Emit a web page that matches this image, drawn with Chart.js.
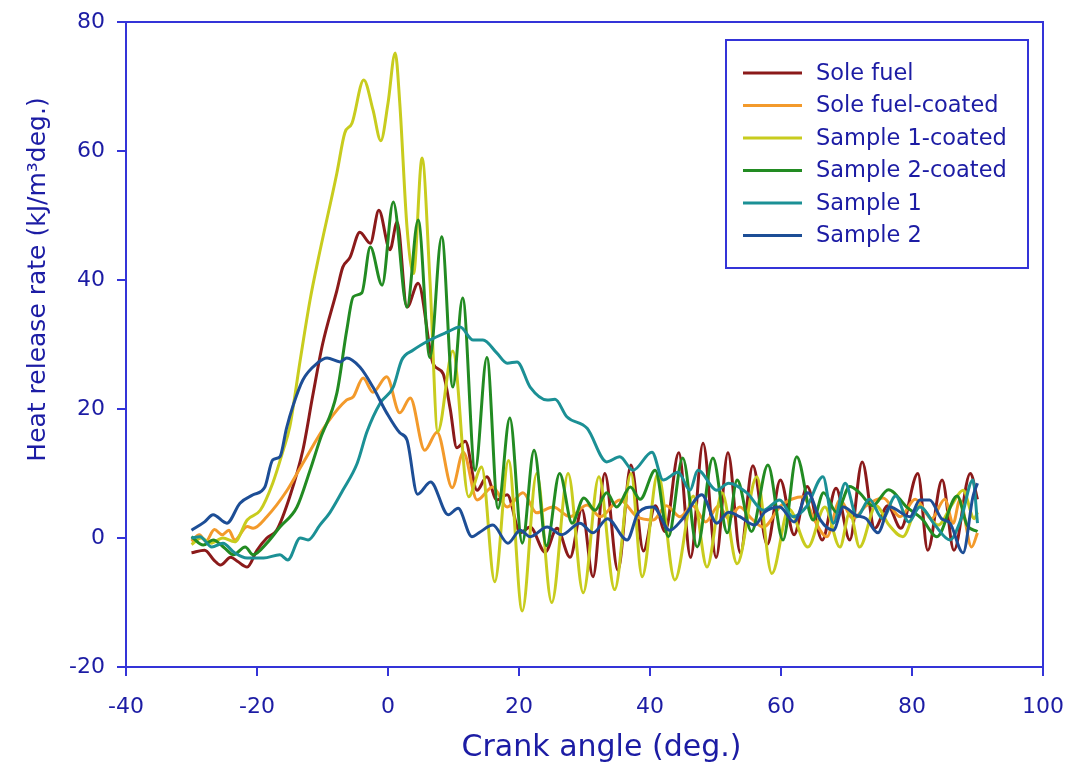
<!DOCTYPE html>
<html><head><meta charset="utf-8">
<script src="https://cdn.jsdelivr.net/npm/chart.js@4/dist/chart.umd.min.js"></script>
<style>html,body{margin:0;padding:0;background:#fff}#wrap{width:1071px;height:778px;position:relative}</style>
</head><body><div id="wrap"><canvas id="c" width="1071" height="778"></canvas></div>
<script>
// ---- Data ----
const seriesLabels = ['Sole fuel','Sole fuel-coated','Sample 1-coated','Sample 2-coated','Sample 1','Sample 2'];
const seriesColors = ['#8b1a1a','#f39a2b','#c8cc1e','#228b22','#1b9095','#1d4e96'];
const xTickLabels = [-40,-20,0,20,40,60,80,100];
const yTickLabels = [-20,0,20,40,60,80];
const xTitle = 'Crank angle (deg.)';
const yTitle = 'Heat release rate (kJ/m³deg.)';

const soleFuelX = [-30,-28,-26.5,-25.6,-24,-23,-21.5,-20,-18.5,-17,-15,-13,-11.5,-10,-7.8,-6.9,-5.8,-4.3,-2.7,-1.4,0.3,1.4,2.9,4.6,6.9,8.4,9.5,10.5,11.8,13.6,15.1,16.6,18.2,20.2,21.7,24,25.8,27.8,29.6,31.3,33.1,35.1,37.1,39,40.8,42.3,44.4,46.2,48.1,50.1,51.9,53.8,55.7,57.9,59.9,62,64,66.3,68.4,70.5,72.4,74.3,76.3,78.3,80.9,82.4,84.6,86.4,88.9,90];
const soleFuelY = [-2.3,-1.9,-3.5,-4.2,-3,-3.6,-4.5,-1.9,0,1.2,6.4,13.6,22,30,38.4,42,43.5,47.4,45.7,50.8,44.7,49,35.8,39.5,27,25.5,20,14,15,7.4,9.5,5.9,6.7,0.8,1.7,-2.2,1.5,-3,4.5,-6,10,-5,11.3,-2,5,1,13.2,-3,14.7,-3,13.2,-2.3,11.2,-1,9,0.5,8,-0.3,7.7,-0.3,11.8,1.5,5,1.5,10,-1.9,9,-1.9,10,6];

const soleFuelCoatedX = [-30,-28.8,-27.8,-26.5,-25.3,-24.3,-23.4,-21.5,-20.6,-18.5,-15.4,-13,-9.3,-6.3,-5.3,-3.8,-2.3,-0.2,1.8,3.4,5.6,7.5,9.8,11.5,13.6,16,18.2,20.6,22.7,25.2,27.8,30.4,32.4,35.4,38,40.5,42.5,44.6,46.5,48.5,50.5,52,53.7,55.5,57.3,60,63.4,65,67,69,71,73,75.6,78.2,80.5,83,85,86.3,87.3,89.1,90];
const soleFuelCoatedY = [-0.5,0.5,-0.5,1.3,0.5,1.2,-0.3,1.8,1.5,3.3,7.4,11.6,17.8,21.4,21.9,24.8,22.6,25,19.4,21.7,13.6,16.4,7.8,13.3,5.9,7.9,4.8,7,3.9,4.8,3.3,5.1,3.3,5.9,3.3,2.8,5,3.3,5,2.5,5,3,4.8,3,1.7,5,6.4,3,0.2,5.9,3,5,6.2,3.3,6,3,6,2.3,5.9,-1.4,0.8];

const sample1CoatedX = [-30,-28.5,-27,-25.2,-23.4,-21.5,-19.5,-17.6,-16,-15,-13.4,-11.9,-10.7,-7.8,-6.6,-5.5,-3.7,-2.3,-1.1,0,1.1,1.8,2.9,3.9,5.2,6.4,7.6,9.9,12.3,14.3,16.3,18.4,20.5,22.7,25,27.5,29.8,32.2,34.6,37.1,38.8,41.2,43.8,46.6,48.7,51,53.3,56.3,58.6,61.2,64.1,66.7,69,70.5,72,74.5,76.5,78.6,81,84,86,87.8,89.5,90];
const sample1CoatedY = [-1,0,-0.8,0,-0.6,2.8,4.3,8.5,13.6,17.2,27.6,36.9,43,56.6,62.8,64.3,71,66.4,61.6,67.4,75.2,67.4,48.2,41,58.9,40,16.5,29,6.4,11,-6.8,12,-11.3,10,-10,10,-8.5,9.5,-8,10,-6,10,-6.5,6.5,-4.5,7,-4,9.5,-5.5,4.5,-1.4,4.8,-1.4,4,-1.4,5,2,0.2,5,2,5,7.4,3,4];

const sample2CoatedX = [-30,-28.2,-26.7,-25,-23.6,-21.8,-20.6,-18.5,-16.5,-13.9,-11.9,-10.4,-7.8,-6.3,-5.3,-4,-2.7,-0.9,0.8,2.9,4.6,6.4,8.2,9.9,11.4,13.3,15.1,16.8,18.6,20.5,22.3,24.2,26.2,28.1,29.9,31.6,33.4,34.9,37,38.5,40.8,42.8,45,47.2,49.6,51.8,53.3,55.5,58,60.3,62.4,64.9,66.5,68.5,70.5,72,74,76.4,79.2,81.5,83.8,86.9,88.4,90];
const sample2CoatedY = [0.2,-1.1,-0.3,-1.5,-2.6,-1.4,-2.6,-0.8,1.7,4.8,10.5,15.2,22.5,32.2,37.4,38,45.1,39.2,52.1,35.8,49.3,28,46.7,23.4,37.2,10.5,28,4.6,18.6,-0.8,13.6,-1.2,10,2.3,6.2,4.3,7,4.8,7.9,6,10.5,0.2,12.4,-1.4,12.4,0.8,9,1,11.3,-0.3,12.6,2.8,7,4,8,7,5,7.5,4.8,3,0.2,6.5,2,1];

const sample1X = [-30,-28.7,-26.9,-25.2,-23.4,-21.5,-19,-16.5,-15.3,-13.4,-12.2,-10.4,-8.9,-6.9,-4.7,-3.2,-1.2,0.8,2.1,3.8,6.4,9,11,13,14.5,16.6,18.2,19.7,21.7,24.3,25.5,27.3,30.4,33.4,35.4,37.4,40.3,42,44.3,46.1,47.3,50.2,52,54.8,57.3,59.8,61.8,64,66.4,68,69.8,71.6,73.5,75.5,77.5,79.5,81.2,83.5,85.8,87.5,89.3,90];
const sample1Y = [0,0.2,-1.4,-0.8,-2.3,-3.1,-3.1,-2.6,-3.4,0,-0.3,2,3.9,7.4,11.6,16.5,20.9,23.4,27.6,29.1,30.7,31.9,32.7,30.7,30.7,28.7,27.1,27.3,23.4,21.4,21.5,18.8,17,11.8,12.6,10.5,13.3,9,10.2,7.4,10.5,7.4,8.5,7,4.3,5.9,3.3,5,9.5,2.3,8.5,3.3,6,3,6.5,2.5,4.8,2,-0.3,3,9,2.3];

const sample2X = [-30,-28,-26.7,-24.6,-22.6,-20.6,-18.8,-17.6,-16.5,-15.5,-14.5,-13,-10.8,-9.3,-7.3,-6.3,-4.3,-2.3,-0.2,1.8,2.9,4.5,6.5,9.2,10.7,12.8,14,16,18.3,20.2,21.7,24.3,26.5,29.3,31.3,33.5,36.5,38.2,40.5,43,45,47.9,50.2,52,53.7,56,57.5,59.8,62,64.1,66,68,69.5,71.5,73,74.8,76.6,79.7,81.2,82.7,84.5,85.8,87.8,89.3,90];
const sample2Y = [1.2,2.5,3.6,2.3,5.4,6.7,7.9,12.1,12.6,17,20.5,24.5,27.1,27.9,27.3,27.9,26.5,23.4,19.4,16.3,15.2,6.8,8.7,3.6,4.6,0.2,0.9,2,-0.8,1.2,0.2,1.7,0.5,2.3,0.8,3,-0.3,3.9,4.8,1.2,3,6.7,2.3,4,3.3,2,4,4.8,2.5,7,2.8,1.2,4.8,3.5,3,0.8,4.8,3.3,5.9,5.9,3,2.3,-2.3,6.4,8.5];

const seriesX = [soleFuelX, soleFuelCoatedX, sample1CoatedX, sample2CoatedX, sample1X, sample2X];
const seriesY = [soleFuelY, soleFuelCoatedY, sample1CoatedY, sample2CoatedY, sample1Y, sample2Y];

// ---- Styling ----
const AXIS = '#3434d8';
const TEXT = '#1c1ca4';
const FONT = "'DejaVu Sans', 'Liberation Sans', Arial, sans-serif";

const datasets = seriesLabels.map((label, i) => ({
  label,
  data: seriesX[i].map((x, j) => ({x, y: seriesY[i][j]})),
  borderColor: seriesColors[i],
  backgroundColor: seriesColors[i],
  borderWidth: 3,
  pointRadius: 0,
  fill: false,
  cubicInterpolationMode: 'monotone',
  order: seriesLabels.length - i
}));

const framePlugin = {
  id: 'frame',
  afterDatasetsDraw(chart) {
    const {ctx, chartArea: a} = chart;
    ctx.save();
    ctx.strokeStyle = AXIS;
    ctx.lineWidth = 2;
    ctx.beginPath();
    ctx.moveTo(a.left, a.top); ctx.lineTo(a.right, a.top); ctx.lineTo(a.right, a.bottom);
    ctx.stroke();
    ctx.restore();
  }
};

// axis titles (slightly off-centre in the reference)
const titlePlugin = {
  id: 'axisTitles',
  afterDraw(chart) {
    const {ctx, chartArea: a} = chart;
    ctx.save();
    ctx.fillStyle = TEXT;
    ctx.textAlign = 'center';
    ctx.textBaseline = 'middle';
    ctx.font = '30px ' + FONT;
    ctx.fillText(xTitle, (a.left + a.right) / 2 + 17, a.bottom + 81);
    ctx.translate(38, (a.top + a.bottom) / 2 - 65);
    ctx.rotate(-Math.PI / 2);
    ctx.font = '25px ' + FONT;
    ctx.fillText(yTitle, 0, 0);
    ctx.restore();
  }
};

const legendPlugin = {
  id: 'boxLegend',
  afterDraw(chart) {
    const {ctx, chartArea: a} = chart;
    const boxW = 302, boxH = 228;
    const left = a.right - 15 - boxW, top = a.top + 18;
    ctx.save();
    ctx.fillStyle = '#fff';
    ctx.fillRect(left, top, boxW, boxH);
    ctx.strokeStyle = AXIS;
    ctx.lineWidth = 2;
    ctx.strokeRect(left, top, boxW, boxH);
    ctx.font = '22.5px ' + FONT;
    ctx.textBaseline = 'middle';
    ctx.textAlign = 'left';
    chart.data.datasets.forEach((ds, i) => {
      const y = top + 33 + i * 32.5;
      ctx.strokeStyle = ds.borderColor;
      ctx.lineWidth = 3;
      ctx.beginPath();
      ctx.moveTo(left + 17, y); ctx.lineTo(left + 76, y);
      ctx.stroke();
      ctx.fillStyle = TEXT;
      ctx.fillText(ds.label, left + 90, y + 1);
    });
    ctx.restore();
  }
};

new Chart(document.getElementById('c'), {
  type: 'line',
  data: {datasets},
  plugins: [framePlugin, titlePlugin, legendPlugin],
  options: {
    responsive: false,
    animation: false,
    devicePixelRatio: 1,
    layout: {padding: {top: 22, right: 28, left: 0, bottom: 0}},
    plugins: {legend: {display: false}, tooltip: {enabled: false}},
    scales: {
      x: {
        type: 'linear', min: -40, max: 100,
        afterBuildTicks: s => { s.ticks = xTickLabels.map(v => ({value: v})); },
        ticks: {color: TEXT, font: {family: FONT, size: 22}, padding: 18, maxRotation: 0, autoSkip: false},
        grid: {display: true, drawOnChartArea: false, drawTicks: true, tickLength: 9, color: AXIS, lineWidth: 2},
        border: {display: true, color: AXIS, width: 2},
        title: {display: false},
        afterFit: s => { s.height = 111; s.paddingLeft = 0; s.paddingRight = 0; }
      },
      y: {
        type: 'linear', min: -20, max: 80,
        afterBuildTicks: s => { s.ticks = yTickLabels.map(v => ({value: v})); },
        ticks: {color: TEXT, font: {family: FONT, size: 22}, padding: 12},
        grid: {display: true, drawOnChartArea: false, drawTicks: true, tickLength: 9, color: AXIS, lineWidth: 2},
        border: {display: true, color: AXIS, width: 2},
        title: {display: false},
        afterFit: s => { s.width = 126; s.paddingTop = 0; s.paddingBottom = 0; }
      }
    }
  }
});
</script>
</body></html>
